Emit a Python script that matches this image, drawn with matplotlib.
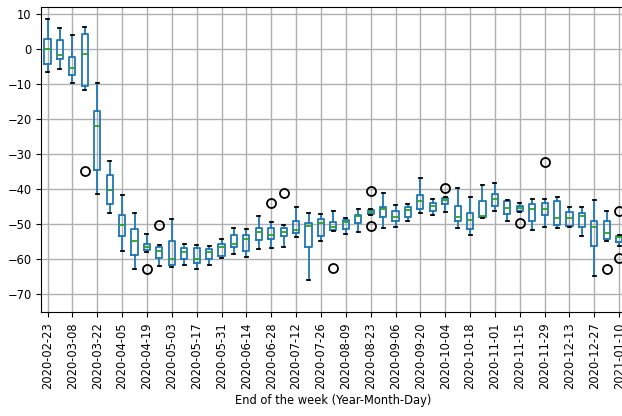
import matplotlib
matplotlib.use("Agg")
import matplotlib.pyplot as plt

# Week-ending dates (one box per week)
weeks = [
    "2020-02-23", "2020-03-01", "2020-03-08", "2020-03-15", "2020-03-22", "2020-03-29",
    "2020-04-05", "2020-04-12", "2020-04-19", "2020-04-26", "2020-05-03", "2020-05-10",
    "2020-05-17", "2020-05-24", "2020-05-31", "2020-06-07", "2020-06-14", "2020-06-21",
    "2020-06-28", "2020-07-05", "2020-07-12", "2020-07-19", "2020-07-26", "2020-08-02",
    "2020-08-09", "2020-08-16", "2020-08-23", "2020-08-30", "2020-09-06", "2020-09-13",
    "2020-09-20", "2020-09-27", "2020-10-04", "2020-10-11", "2020-10-18", "2020-10-25",
    "2020-11-01", "2020-11-08", "2020-11-15", "2020-11-22", "2020-11-29", "2020-12-06",
    "2020-12-13", "2020-12-20", "2020-12-27", "2021-01-03", "2021-01-10",
]

# Box statistics per week
whishi = [8.5, 5.9, 4.1, 6.4, -9.8, -32.0, -41.8, -46.9, -52.9, -56.1, -48.5, -55.7,
          -56.1, -56.3, -54.4, -51.1, -51.4, -47.8, -49.5, -50.2, -45.2, -46.9, -47.2, -46.4,
          -48.3, -45.7, -45.8, -41.1, -44.6, -44.3, -36.7, -42.8, -42.2, -39.7, -42.3, -38.8,
          -38.2, -43.1, -44.1, -42.9, -42.9, -42.4, -45.1, -45.0, -43.1, -46.2, -53.0]
q3 = [2.8, 2.5, -2.4, 4.2, -17.6, -36.1, -47.3, -51.3, -55.6, -56.5, -54.8, -56.8,
      -56.8, -57.2, -55.8, -53.0, -53.1, -51.1, -51.2, -51.0, -49.1, -49.8, -48.5, -49.5,
      -48.9, -47.3, -46.1, -45.0, -46.2, -45.2, -41.8, -43.9, -42.6, -44.9, -46.8, -43.5,
      -41.3, -43.4, -44.9, -44.3, -43.9, -43.4, -46.5, -46.8, -49.2, -49.1, -53.4]
med = [-0.1, -1.7, -5.5, -1.5, -22.0, -40.3, -50.2, -54.9, -56.5, -57.7, -60.1, -57.9,
       -60.1, -58.1, -56.6, -55.8, -54.3, -52.3, -53.1, -52.3, -51.7, -50.6, -49.6, -50.8,
       -49.5, -47.7, -46.5, -45.7, -48.0, -46.1, -43.3, -44.8, -43.1, -47.9, -48.9, -47.6,
       -42.8, -45.4, -45.5, -45.7, -45.6, -48.4, -48.3, -47.8, -50.9, -52.5, -53.7]
q1 = [-4.3, -2.7, -7.4, -10.6, -34.6, -44.2, -53.3, -58.9, -57.5, -59.8, -61.6, -60.0,
      -61.1, -60.0, -59.0, -56.5, -57.8, -54.6, -54.3, -53.4, -52.5, -56.5, -53.4, -51.7,
      -51.4, -49.6, -47.2, -48.0, -49.1, -47.9, -45.6, -46.2, -44.2, -49.1, -51.3, -48.0,
      -44.9, -47.0, -46.2, -49.2, -47.3, -50.2, -50.5, -50.8, -56.2, -54.4, -55.1]
whislo = [-6.5, -5.7, -9.6, -11.6, -41.5, -46.8, -57.8, -62.9, -58.0, -61.9, -62.3, -61.7,
          -62.7, -61.6, -59.7, -58.5, -59.4, -57.1, -56.9, -56.5, -53.6, -66.0, -54.8, -51.9,
          -52.8, -52.4, -47.4, -51.2, -50.9, -49.1, -46.9, -47.4, -46.6, -51.1, -53.2, -48.4,
          -46.4, -49.1, -46.6, -51.7, -50.9, -51.1, -50.7, -53.4, -64.9, -54.9, -56.3]

# Outlying weekly values, keyed by week index
outliers = {3: [-34.8], 8: [-62.8], 9: [-50.4], 18: [-43.9], 19: [-41.1], 23: [-62.6],
            26: [-40.5, -50.5], 32: [-39.7], 38: [-49.7], 40: [-32.2], 45: [-62.8],
            46: [-46.3, -59.6]}

yticks = [10, 0, -10, -20, -30, -40, -50, -60, -70]

stats = []
for i, w in enumerate(weeks):
    stats.append(dict(label=w, med=med[i], q1=q1[i], q3=q3[i],
                      whislo=whislo[i], whishi=whishi[i],
                      fliers=outliers.get(i, [])))

plt.rcParams["font.family"] = "DejaVu Sans"
plt.rcParams["font.size"] = 8.3

fig = plt.figure(figsize=(6.22, 4.16), dpi=100)
ax = fig.add_axes([0.0664, 0.2493, 1.0055 - 0.0664, 0.9839 - 0.2493])

positions = list(range(1, len(weeks) + 1))
ax.bxp(stats, positions=positions, widths=0.5,
       boxprops=dict(color="#1f77b4", linewidth=1.3),
       whiskerprops=dict(color="#1f77b4", linewidth=1.3),
       capprops=dict(color="black", linewidth=1.3),
       medianprops=dict(color="#2ca02c", linewidth=1.3),
       flierprops=dict(marker="o", markerfacecolor="none",
                       markeredgecolor="black", markersize=6.5, markeredgewidth=1.3))

ax.set_xlim(0.5, len(weeks) + 0.5)
ax.set_ylim(-75.2, 12.1)
ax.set_xticks(positions[::2])
ax.set_xticklabels(weeks[::2], rotation=90)
ax.set_yticks(yticks)
ax.grid(True, color="#b0b0b0", linewidth=1.0)
ax.set_axisbelow(True)
ax.set_xlabel("End of the week (Year-Month-Day)")

fig.savefig("out.png", dpi=100)
